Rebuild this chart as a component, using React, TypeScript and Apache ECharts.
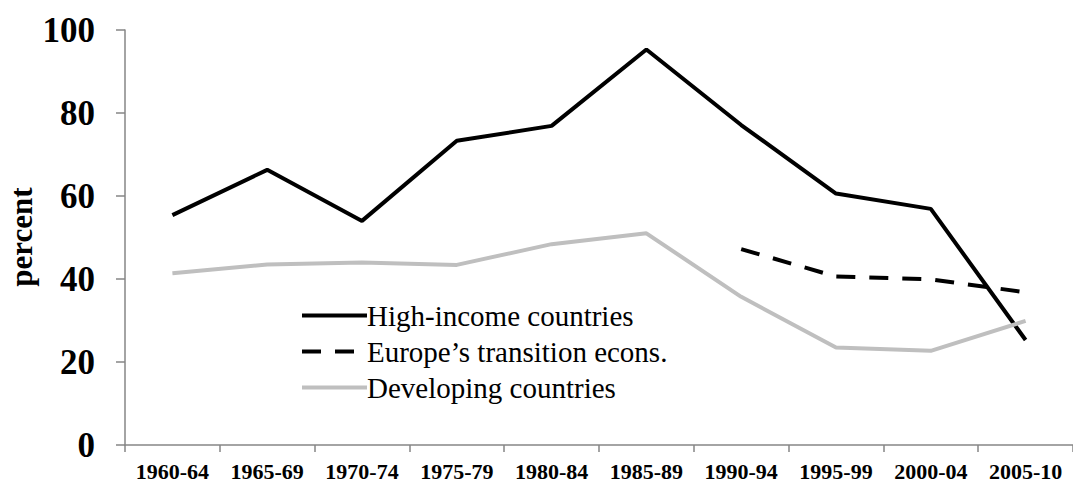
import React, { useEffect, useRef } from "react";
import * as echarts from "echarts";

const categories = ["1960-64", "1965-69", "1970-74", "1975-79", "1980-84", "1985-89", "1990-94", "1995-99", "2000-04", "2005-10"];
const highIncome = [55.4, 66.3, 54.0, 73.3, 76.9, 95.3, 77.1, 60.6, 56.9, 25.3];
const transition = [null, null, null, null, null, null, 47.2, 40.6, 39.9, 36.8];
const developing = [41.4, 43.5, 44.0, 43.4, 48.4, 51.0, 35.7, 23.5, 22.7, 29.9];
const seriesNames = ["High-income countries", "Europe\u2019s transition econs.", "Developing countries"];
const yAxisTitle = "percent";
const yTicks = { min: 0, max: 100, interval: 20 };

const FONT = "'Liberation Serif', 'Times New Roman', serif";

export default function App() {
  const ref = useRef<HTMLDivElement>(null);
  useEffect(() => {
    if (!ref.current) return;
    const chart = echarts.init(ref.current, null, { renderer: "svg" });
    chart.setOption({
      animation: false,
      backgroundColor: "#ffffff",
      textStyle: { fontFamily: FONT },
      grid: { left: 125, right: 0, top: 30, bottom: 37, containLabel: false, outerBoundsMode: "none" },
      graphic: [
        {
          type: "text",
          x: 21,
          y: 237,
          rotation: Math.PI / 2,
          style: {
            text: yAxisTitle,
            fontFamily: FONT,
            fontSize: 31,
            fontWeight: "bold",
            fill: "#000",
            align: "center",
            verticalAlign: "middle",
          },
        },
      ],
      legend: {
        left: 295,
        top: 296,
        orient: "vertical",
        itemWidth: 65,
        itemHeight: 14,
        itemGap: 7,
        itemStyle: { opacity: 0 },
        lineStyle: { width: 4 },
        textStyle: { fontFamily: FONT, fontSize: 29, color: "#000", padding: [0, 0, 0, -5] },
        data: seriesNames,
      },
      xAxis: {
        type: "category",
        data: categories,
        boundaryGap: true,
        axisLine: { lineStyle: { color: "#868686", width: 1.5 } },
        axisTick: { show: true, length: 7, lineStyle: { color: "#868686", width: 1.5 } },
        axisLabel: { interval: 0, fontFamily: FONT, fontSize: 22, fontWeight: "bold", color: "#000", margin: 15 },
      },
      yAxis: {
        type: "value",
        min: yTicks.min,
        max: yTicks.max,
        interval: yTicks.interval,
        splitLine: { show: false },
        axisLine: { show: true, lineStyle: { color: "#868686", width: 1.5 } },
        axisTick: { show: true, length: 9, lineStyle: { color: "#868686", width: 1.5 } },
        axisLabel: { fontFamily: FONT, fontSize: 35, fontWeight: "bold", color: "#000", margin: 30 },
      },
      series: [
        {
          name: seriesNames[0],
          type: "line",
          data: highIncome,
          symbol: "none",
          lineStyle: { color: "#000", width: 4 },
          itemStyle: { color: "#000" },
        },
        {
          name: seriesNames[1],
          type: "line",
          data: transition,
          symbol: "none",
          connectNulls: false,
          lineStyle: { color: "#000", width: 4, type: [19, 14] },
          itemStyle: { color: "#000" },
        },
        {
          name: seriesNames[2],
          type: "line",
          data: developing,
          symbol: "none",
          lineStyle: { color: "#bfbfbf", width: 4 },
          itemStyle: { color: "#bfbfbf" },
        },
      ],
    });
    return () => chart.dispose();
  }, []);
  return (
    <div
      ref={ref}
      style={{ position: "fixed", left: 0, top: 0, width: 1073, height: 482, background: "#fff" }}
    />
  );
}
